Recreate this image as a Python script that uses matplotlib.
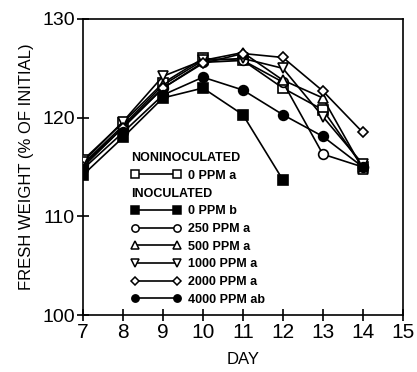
import matplotlib
matplotlib.use("Agg")
import matplotlib.pyplot as plt
from matplotlib.lines import Line2D

plt.rcParams['font.family'] = ['Liberation Sans', 'DejaVu Sans']

days = [7, 8, 9, 10, 11, 12, 13, 14]
days_inoc0 = [7, 8, 9, 10, 11, 12]

noninoc_0 = [115.7, 119.5, 123.5, 126.0, 125.8, 123.0, 120.8, 115.0]
inoc_0 = [114.2, 118.0, 122.0, 123.0, 120.3, 113.7]
inoc_250 = [115.2, 119.0, 123.0, 125.6, 125.8, 123.6, 116.3, 115.0]
inoc_500 = [115.3, 119.2, 123.3, 125.8, 126.6, 123.8, 122.0, 114.8]
inoc_1000 = [115.5, 119.6, 124.2, 125.8, 126.0, 125.0, 120.1, 115.3]
inoc_2000 = [115.0, 119.0, 123.0, 125.5, 126.5, 126.1, 122.7, 118.5]
inoc_4000 = [114.8, 118.5, 122.3, 124.1, 122.8, 120.3, 118.1, 115.0]

series = [
    (days, noninoc_0, 's', 'white', '0 PPM a'),
    (days_inoc0, inoc_0, 's', 'black', '0 PPM b'),
    (days, inoc_250, 'o', 'white', '250 PPM a'),
    (days, inoc_500, '^', 'white', '500 PPM a'),
    (days, inoc_1000, 'v', 'white', '1000 PPM a'),
    (days, inoc_2000, 'D', 'white', '2000 PPM a'),
    (days, inoc_4000, 'o', 'black', '4000 PPM ab'),
]

fig, ax = plt.subplots(figsize=(4.17, 3.72), dpi=100)
fig.subplots_adjust(left=0.199, right=0.966, top=0.949, bottom=0.153)

handles = []
for x, y, mk, fc, lab in series:
    ms = 5.5 if mk == 'D' else 7
    ax.plot(x, y, color='black', lw=1.2, marker=mk, ms=ms,
            mfc=fc, mec='black', mew=1.2, zorder=3)
    handles.append(Line2D([], [], color='black', lw=1.2, marker=mk,
                          ms=ms * 0.75, mfc=fc, mec='black', mew=1.1, label=lab))

ax.set_xlim(7, 15)
ax.set_ylim(100, 130)
ax.set_xticks(range(7, 16))
ax.set_yticks([100, 110, 120, 130])
ax.tick_params(direction='inout', length=8, width=1.2, colors='black')
ax.tick_params(axis='x', labelsize=15, pad=2)
ax.tick_params(axis='y', labelsize=14, pad=2)
for s in ax.spines.values():
    s.set_linewidth(1.2)

ax.set_xlabel('DAY', fontsize=12, labelpad=7)
ax.set_ylabel('FRESH WEIGHT (% OF INITIAL)', fontsize=12, labelpad=6)

leg_kw = dict(frameon=False, numpoints=2, handlelength=4.0, handletextpad=0.6,
              borderpad=0, borderaxespad=0, labelspacing=0.45, alignment='left',
              prop={'size': 9, 'weight': 'bold'},
              title_fontproperties={'size': 9, 'weight': 'bold'})
leg1 = ax.legend(handles=handles[:1], title='NONINOCULATED', loc='upper left',
                 bbox_to_anchor=(0.15, 0.55), **leg_kw)
ax.add_artist(leg1)
ax.legend(handles=handles[1:], title='INOCULATED', loc='upper left',
          bbox_to_anchor=(0.15, 0.43), **leg_kw)

plt.savefig('out.png', dpi=100)
